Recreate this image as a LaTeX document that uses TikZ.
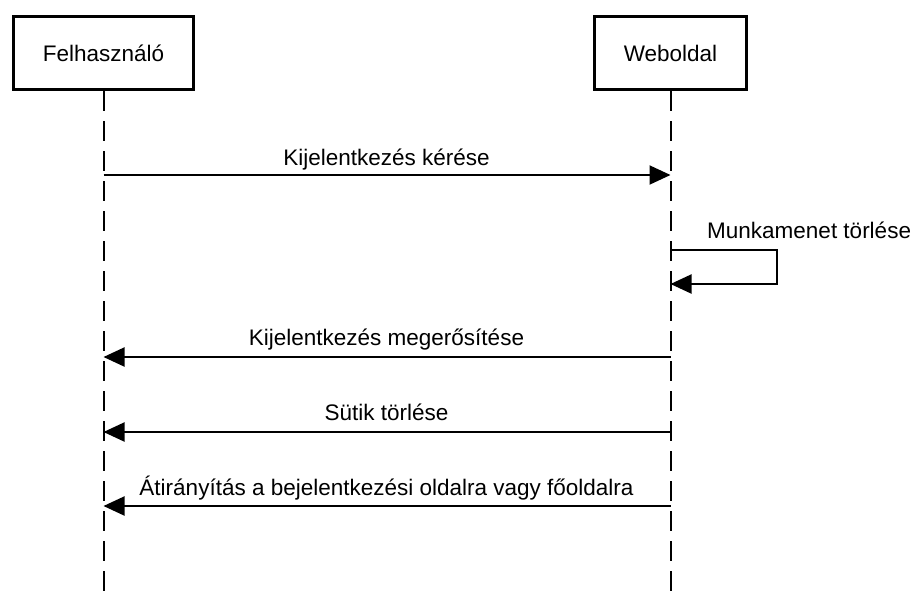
\documentclass[tikz,border=0pt]{standalone}
\usepackage{fontspec}
\setmainfont{Liberation Sans}
\usetikzlibrary{arrows.meta}

\begin{document}
\begin{tikzpicture}[x=1pt,y=-1pt,
        actor/.style={draw,line width=3.3pt,minimum height=73pt,inner sep=0pt,font=\fontsize{22.5}{27}\selectfont},
        lifeline/.style={line width=2pt,dash pattern=on 20pt off 10pt},
        msg/.style={line width=2pt,-{Triangle[length=21pt,width=19pt]}},
        lbl/.style={font=\fontsize{22.5}{27}\selectfont,inner sep=0pt}]
            \useasboundingbox (0,0) rectangle (924,598);
            % resztvevok
            \node[actor,minimum width=180pt] (user) at (103.5,53) {Felhasználó};
            \node[actor,minimum width=152pt] (web) at (670.5,53) {Weboldal};
            \coordinate (user end) at (103.5,598);
            \coordinate (web end) at (670.5,598);
            \draw[lifeline] (user.south)--(user end);
            \draw[lifeline] (web.south)--(web end);
            % uzenetek
            \coordinate (u1) at (103.5,175);
            \coordinate (w1) at (670.5,175);
            \coordinate (w2a) at (670.5,250);
            \coordinate (w2b) at (670.5,284);
            \coordinate (u3) at (103.5,357);
            \coordinate (w3) at (670.5,357);
            \coordinate (u4) at (103.5,432);
            \coordinate (w4) at (670.5,432);
            \coordinate (u5) at (103.5,506);
            \coordinate (w5) at (670.5,506);
            \draw[msg] (u1)--(w1);
            \draw[msg] (w2a)--++(106,0)|-(w2b);
            \draw[msg] (w3)--(u3);
            \draw[msg] (w4)--(u4);
            \draw[msg] (w5)--(u5);
            \node[lbl,anchor=base] (m1) at (386.5,165) {Kijelentkezés kérése};
            \node[lbl,anchor=base west] (m2) at (707,238) {Munkamenet törlése};
            \node[lbl,anchor=base] (m3) at (386.5,345) {Kijelentkezés megerősítése};
            \node[lbl,anchor=base] (m4) at (386.5,420) {Sütik törlése};
            \node[lbl,anchor=base] (m5) at (386.5,495) {Átirányítás a bejelentkezési oldalra vagy főoldalra};
        \end{tikzpicture}
\end{document}
